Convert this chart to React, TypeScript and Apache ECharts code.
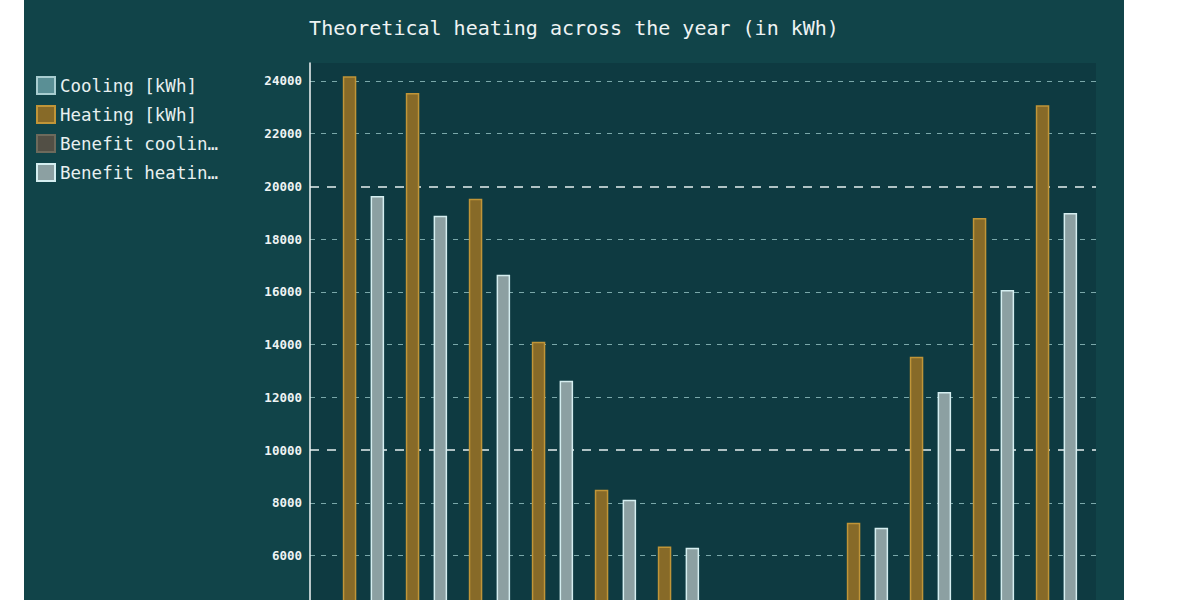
import React, { useEffect, useRef } from "react";
import * as echarts from "echarts";

const months = ["Jan", "Feb", "Mar", "Apr", "May", "Jun", "Jul", "Aug", "Sep", "Oct", "Nov", "Dec"];
const seriesNames = ["Cooling [kWh]", "Heating [kWh]", "Benefit cooling [kWh]", "Benefit heating [kWh]"];
const cooling = [0, 0, 0, 0, 150, 700, 1500, 1300, 300, 0, 0, 0];
const heating = [24180, 23540, 19530, 14110, 8500, 6350, 3900, 4200, 7250, 13540, 18800, 23080];
const benefitCooling = [0, 0, 0, 0, 100, 500, 1100, 950, 200, 0, 0, 0];
const benefitHeating = [19640, 18890, 16650, 12630, 8120, 6300, 3800, 4100, 7060, 12210, 16070, 18990];
const yMin = 0;
const yMax = 24680;
const yStep = 2000;
const majorStep = 10000;
// lowest tick label that falls inside the visible 600px window
const lowestVisibleLabel = 6000;

const FONT = "'DejaVu Sans Mono', monospace";

export default function App() {
  const ref = useRef<HTMLDivElement>(null);
  useEffect(() => {
    if (!ref.current) return;
    const chart = echarts.init(ref.current, null, { renderer: "svg" });
    const minorColors: string[] = [];
    for (let v = yMin; v <= 24000; v += yStep) {
      minorColors.push(v % majorStep === 0 && v !== 0 ? "transparent" : "rgba(160,205,205,0.75)");
    }
    const mk = (name: string, data: number[], fill: string, border: string) => ({
      name,
      type: "bar",
      xAxisIndex: 1,
      yAxisIndex: 1,
      data,
      barWidth: 13.5,
      barGap: "3%",
      itemStyle: { color: fill, borderColor: border, borderWidth: 1.5 },
    });
    chart.setOption({
      animation: false,
      backgroundColor: "#114449",
      title: {
        text: "Theoretical heating across the year (in kWh)",
        left: "center",
        top: 13,
        textStyle: { color: "#eef3f3", fontSize: 20, fontWeight: "normal", fontFamily: FONT },
      },
      legend: {
        orient: "vertical",
        left: 7,
        top: 71,
        icon: "rect",
        itemWidth: 18,
        itemHeight: 17,
        itemGap: 10,
        textStyle: { color: "#e8f0f0", fontSize: 17.5, fontFamily: FONT },
        formatter: (n: string) => (n.length > 15 ? n.slice(0, 14) + "…" : n),
      },
      grid: [
        { left: 286, right: 28, top: 63, height: 651, show: true, backgroundColor: "#0e3a41", borderWidth: 0 },
        { left: 301, width: 756, top: 63, height: 651 },
      ],
      xAxis: [
        { type: "value", gridIndex: 0, show: false, min: 0, max: 1 },
        { type: "category", gridIndex: 1, data: months, axisLine: { show: false }, axisTick: { show: false }, axisLabel: { show: false } },
      ],
      yAxis: [
        {
          type: "value",
          gridIndex: 0,
          min: yMin,
          max: yMax,
          interval: yStep,
          axisLine: { show: true, lineStyle: { color: "#f2f6f6", width: 1.5 } },
          axisTick: { show: false },
          axisLabel: {
            color: "#eef3f3",
            fontSize: 12.5,
            fontWeight: "bold",
            fontFamily: FONT,
            margin: 8,
            showMaxLabel: false,
            formatter: (v: number) => (v >= lowestVisibleLabel ? String(v) : ""),
          },
          splitLine: {
            show: true,
            showMaxLine: false,
            lineStyle: { color: minorColors, type: [5, 6], width: 1 },
          },
        },
        { type: "value", gridIndex: 1, min: yMin, max: yMax, show: false, splitLine: { show: false } },
        {
          type: "value",
          gridIndex: 0,
          min: yMin,
          max: yMax,
          interval: majorStep,
          axisLine: { show: false },
          axisTick: { show: false },
          axisLabel: { show: false },
          splitLine: {
            show: true,
            showMinLine: false,
            showMaxLine: false,
            lineStyle: { color: "#e6f0f0", type: [9, 8], width: 1.6 },
          },
        },
      ],
      series: [
        mk(seriesNames[0], cooling, "#5a8f95", "#a8cdd0"),
        mk(seriesNames[1], heating, "#876a28", "#c09538"),
        mk(seriesNames[2], benefitCooling, "#524f45", "#6d6a5c"),
        mk(seriesNames[3], benefitHeating, "#8ca0a2", "#d5eef0"),
      ],
    });
    return () => chart.dispose();
  }, []);
  return (
    <div style={{ position: "absolute", left: 24, top: 0, width: 1100, height: 760, margin: 0 }}>
      <div ref={ref} style={{ width: 1100, height: 760 }} />
    </div>
  );
}
